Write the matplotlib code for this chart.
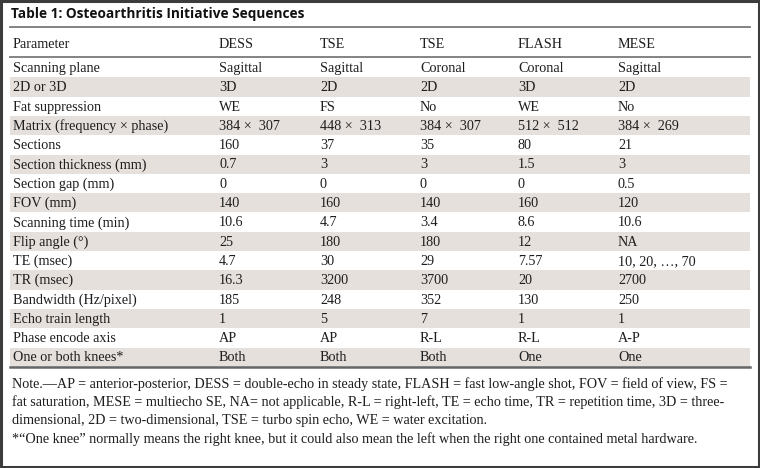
import matplotlib.pyplot as plt
from matplotlib.patches import Rectangle

# Tabla: secuencias del Osteoarthritis Initiative
title = "Table 1: Osteoarthritis Initiative Sequences"
columns = ["Parameter", "DESS", "TSE", "TSE", "FLASH", "MESE"]
params = ["Scanning plane", "2D or 3D", "Fat suppression", "Matrix (frequency \u00d7 phase)",
          "Sections", "Section thickness (mm)", "Section gap (mm)", "FOV (mm)",
          "Scanning time (min)", "Flip angle (\u00b0)", "TE (msec)", "TR (msec)",
          "Bandwidth (Hz/pixel)", "Echo train length", "Phase encode axis", "One or both knees*"]
dess = ["Sagittal", "3D", "WE", "384 \u00d7  307", "160", "0.7", "0", "140", "10.6", "25",
        "4.7", "16.3", "185", "1", "AP", "Both"]
tse_sag = ["Sagittal", "2D", "FS", "448 \u00d7  313", "37", "3", "0", "160", "4.7", "180",
           "30", "3200", "248", "5", "AP", "Both"]
tse_cor = ["Coronal", "2D", "No", "384 \u00d7  307", "35", "3", "0", "140", "3.4", "180",
           "29", "3700", "352", "7", "R-L", "Both"]
flash = ["Coronal", "3D", "WE", "512 \u00d7  512", "80", "1.5", "0", "160", "8.6", "12",
         "7.57", "20", "130", "1", "R-L", "One"]
mese = ["Sagittal", "2D", "No", "384 \u00d7  269", "21", "3", "0.5", "120", "10.6", "NA",
        "10, 20, \u2026, 70", "2700", "250", "1", "A-P", "One"]
notes = [
    "Note.\u2014AP = anterior-posterior, DESS = double-echo in steady state, FLASH = fast low-angle shot, FOV = field of view, FS =",
    "fat saturation, MESE = multiecho SE, NA= not applicable, R-L = right-left, TE = echo time, TR = repetition time, 3D = three-",
    "dimensional, 2D = two-dimensional, TSE = turbo spin echo, WE = water excitation.",
    "*\u201cOne knee\u201d normally means the right knee, but it could also mean the left when the right one contained metal hardware.",
]

W, H = 760, 468
fig = plt.figure(figsize=(W / 100, H / 100), dpi=100)
ax = fig.add_axes([0, 0, 1, 1])
ax.set_xlim(0, W)
ax.set_ylim(H, 0)
ax.axis("off")

serif = "Liberation Serif"
fs = 10.2
col_x = [13, 219, 320, 420, 518, 618]
left, right = 10, 750
top_rows, row_h = 57, 19.3
shade = "#e6e0dc"
line_c = "#7a7a7a"
txt_c = "#1e1e1e"

# marco exterior
ax.add_patch(Rectangle((1, 1), W - 2, H - 2, fill=False, edgecolor="#3c3c3c", linewidth=2.2))

# titulo
ax.text(left + 1, 14, title, fontsize=9.8, fontweight="bold", family="Open Sans",
        va="center", ha="left", color="#111111")
ax.plot([left, right], [27, 27], color=line_c, linewidth=1.3)

# encabezado
for x, c in zip(col_x, columns):
    ax.text(x, 44, c, fontsize=fs, family=serif, va="center", ha="left", color=txt_c)
ax.plot([left, right], [top_rows, top_rows], color=line_c, linewidth=1.3)

data_cols = [params, dess, tse_sag, tse_cor, flash, mese]
for i in range(len(params)):
    y0 = top_rows + 1 + i * row_h
    if i % 2 == 1:
        ax.add_patch(Rectangle((left, y0), right - left, row_h, facecolor=shade, edgecolor="none"))
    for x, col in zip(col_x, data_cols):
        ax.text(x, y0 + row_h / 2 + 0.8, col[i], fontsize=fs, family=serif, va="center",
                ha="left", color=txt_c)

bottom = top_rows + 1 + len(params) * row_h
ax.plot([left, right], [bottom, bottom], color="#666666", linewidth=1.8)

# notas
for k, line in enumerate(notes):
    ax.text(12, bottom + 17.5 + k * 18.3, line, fontsize=10.2, family=serif, va="center",
            ha="left", color=txt_c)

fig.savefig("out.png", dpi=100)
